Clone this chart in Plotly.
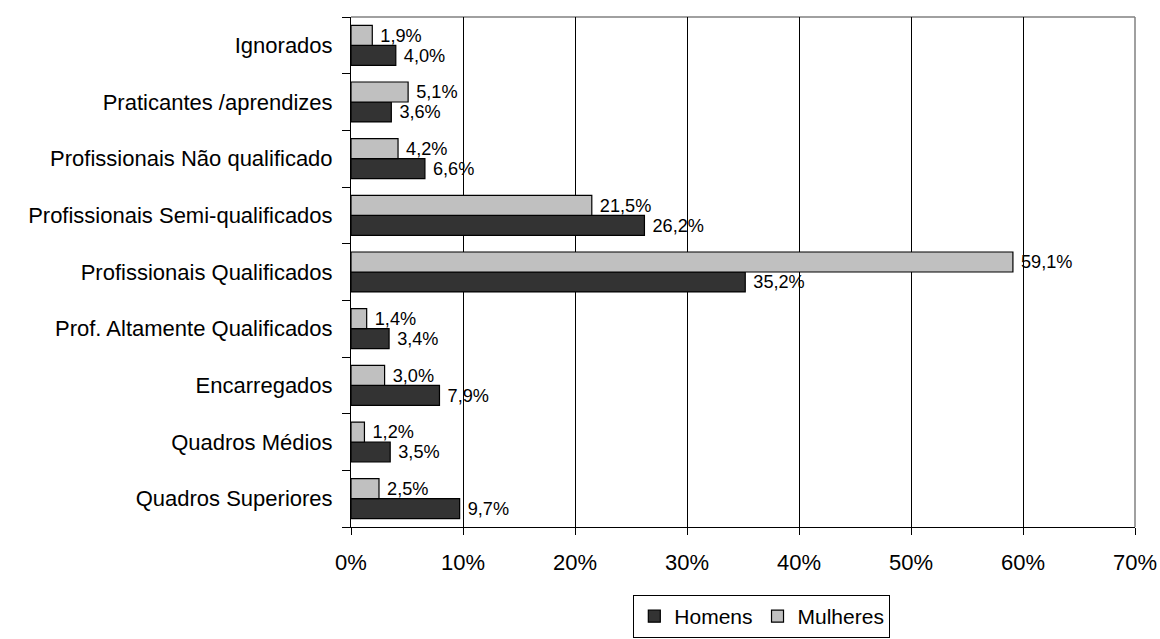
import plotly.graph_objects as go

# Occupational categories, listed top to bottom as displayed
categorias = [
    "Ignorados",
    "Praticantes /aprendizes",
    "Profissionais Não qualificado",
    "Profissionais Semi-qualificados",
    "Profissionais Qualificados",
    "Prof. Altamente Qualificados",
    "Encarregados",
    "Quadros Médios",
    "Quadros Superiores",
]
homens = [4.0, 3.6, 6.6, 26.2, 35.2, 3.4, 7.9, 3.5, 9.7]
mulheres = [1.9, 5.1, 4.2, 21.5, 59.1, 1.4, 3.0, 1.2, 2.5]
x_ticks = [0, 10, 20, 30, 40, 50, 60, 70]
x_tick_labels = ["0%", "10%", "20%", "30%", "40%", "50%", "60%", "70%"]

FONT = "Liberation Sans, Arial, sans-serif"
FS = 22


def rotulo(v):
    return "\u00a0" + f"{v:.1f}".replace(".", ",") + "%"


# categorical y axis runs bottom-up, so feed the lists reversed
cat_b = categorias[::-1]
hom_b = homens[::-1]
mul_b = mulheres[::-1]

fig = go.Figure()
fig.add_trace(go.Bar(
    name="Homens", orientation="h", y=cat_b, x=hom_b,
    marker=dict(color="#333333", line=dict(color="#000000", width=1.2)),
    text=[rotulo(v) for v in hom_b], textposition="outside",
    textfont=dict(family=FONT, size=20, color="#000000"),
    cliponaxis=False,
))
fig.add_trace(go.Bar(
    name="Mulheres", orientation="h", y=cat_b, x=mul_b,
    marker=dict(color="#C0C0C0", line=dict(color="#000000", width=1.2)),
    text=[rotulo(v) for v in mul_b], textposition="outside",
    textfont=dict(family=FONT, size=20, color="#000000"),
    cliponaxis=False,
))

fig.update_layout(
    width=1160, height=639,
    margin=dict(l=351, r=25, t=17, b=112, autoexpand=False),
    paper_bgcolor="white", plot_bgcolor="white",
    barmode="group", bargap=0.295, bargroupgap=0,
    font=dict(family=FONT, size=FS, color="#000000"),
    showlegend=True,
    legend=dict(
        orientation="h", x=0.524, y=-0.2176, xanchor="center", yanchor="bottom",
        bordercolor="#000000", borderwidth=1, bgcolor="white",
        font=dict(family=FONT, size=21, color="#000000"),
        itemwidth=30, tracegroupgap=0,
    ),
)

fig.update_xaxes(
    range=[0, 70], tickvals=x_ticks, ticktext=x_tick_labels,
    showgrid=True, gridcolor="#000000", gridwidth=1,
    showline=True, linecolor="#000000", linewidth=1,
    ticks="outside", ticklen=7, tickcolor="#000000",
    ticklabelstandoff=9,
    zeroline=False, fixedrange=True,
    tickfont=dict(family=FONT, size=FS, color="#000000"),
)
fig.update_yaxes(
    showgrid=False, showline=True, linecolor="#000000", linewidth=1,
    ticks="outside", ticklen=8, tickcolor="#000000", tickson="boundaries",
    ticklabelstandoff=13,
    tickfont=dict(family=FONT, size=FS, color="#000000"),
    fixedrange=True,
)

# grey plot-area border along the top and right edges
fig.add_shape(type="line", xref="paper", yref="paper", x0=0, x1=1, y0=1, y1=1,
              line=dict(color="#808080", width=1.5), layer="between")
fig.add_shape(type="line", xref="paper", yref="paper", x0=1, x1=1, y0=0, y1=1,
              line=dict(color="#808080", width=1.5), layer="between")

fig.write_html("out.html")
